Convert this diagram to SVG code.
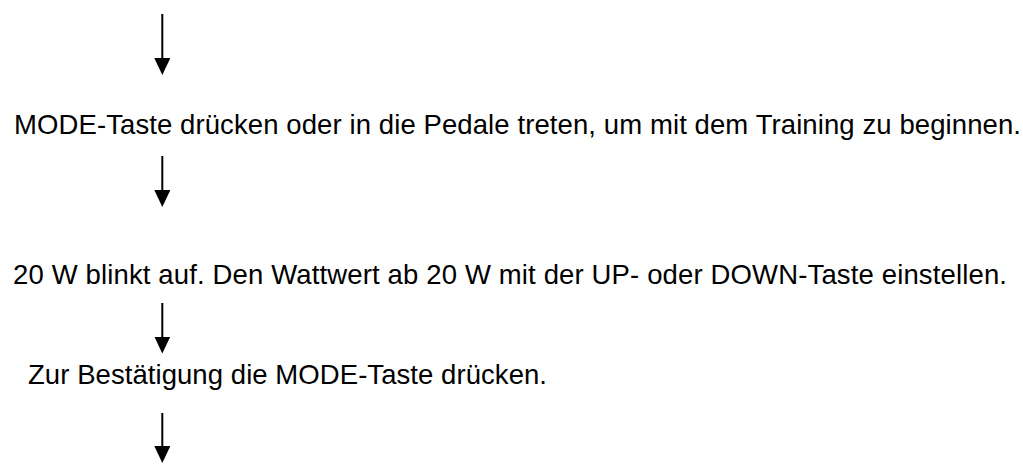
<svg xmlns="http://www.w3.org/2000/svg" width="1023" height="470" viewBox="0 0 1023 470">
<style>
.t{font-family:"Liberation Sans",Arial,sans-serif;font-size:27.5px;fill:#000}
.c{stroke:#000;stroke-width:2;fill:none}
</style>
<defs>
<marker id="ah" viewBox="0 0 17 16" markerWidth="17" markerHeight="16" markerUnits="userSpaceOnUse" refX="1" refY="8" orient="auto">
<path d="M0,0 L17,8 L0,16 z" fill="#000"/>
</marker>
</defs>
<rect width="1023" height="470" fill="#fff"/>
<g id="connectors">
<line class="c" x1="162.3" y1="14" x2="162.3" y2="59" marker-end="url(#ah)"/>
<line class="c" x1="162.3" y1="156" x2="162.3" y2="191" marker-end="url(#ah)"/>
<line class="c" x1="162.3" y1="303" x2="162.3" y2="337.5" marker-end="url(#ah)"/>
<line class="c" x1="162.3" y1="413" x2="162.3" y2="447" marker-end="url(#ah)"/>
</g>
<g id="step1"><text class="t" x="14" y="133.5" textLength="1007" lengthAdjust="spacing">MODE-Taste drücken oder in die Pedale treten, um mit dem Training zu beginnen.</text></g>
<g id="step2"><text class="t" x="13" y="283.5" textLength="994" lengthAdjust="spacing">20 W blinkt auf. Den Wattwert ab 20 W mit der UP- oder DOWN-Taste einstellen.</text></g>
<g id="step3"><text class="t" x="28" y="383.5" textLength="519" lengthAdjust="spacing">Zur Bestätigung die MODE-Taste drücken.</text></g>
</svg>
